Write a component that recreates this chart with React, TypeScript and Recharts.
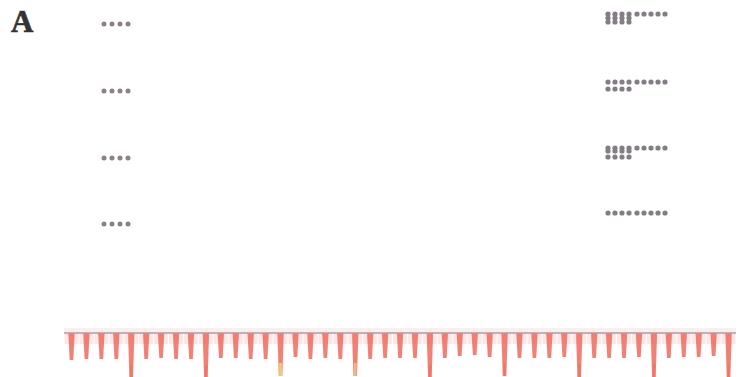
import { ScatterChart, Scatter, XAxis, YAxis, BarChart, Bar, ReferenceLine, ReferenceArea } from 'recharts';

// dot blots: left lane columns and row heights
const leftColsX = [104, 112, 120, 128];
const leftRowsY = [24, 91, 158, 224];

// right lane: each row of dots
const rightRowX = [608, 615, 622, 629, 637, 644, 651, 658, 665];
const rightPairX = [608, 615, 622, 629];
const rightTopY = [14, 82, 148, 213];
const rightMidY = [18, 151];
const rightLowY = [22, 89, 157];

// peak strip at bottom: depth of each spike below the baseline
const peakLanes = Array.from({ length: 45 }, (_, i) => `L${i + 1}`);
const peakDepth = [
  27, 26, 26, 26, 45, 26, 25, 26, 26, 45,
  25, 25, 26, 26, 43, 24, 26, 25, 26, 43,
  26, 25, 25, 25, 45, 25, 23, 22, 24, 43,
  25, 25, 25, 24, 44, 25, 25, 25, 24, 44,
  25, 24, 24, 23, 45,
];

const leftDots = leftRowsY.flatMap((y) => leftColsX.map((x) => ({ x, y })));
const rightDots = [
  ...rightTopY.flatMap((y) => rightRowX.map((x) => ({ x, y }))),
  ...rightMidY.flatMap((y) => rightPairX.map((x) => ({ x, y }))),
  ...rightLowY.flatMap((y) => rightPairX.map((x) => ({ x, y }))),
];
const peakData = peakLanes.map((lane, i) => ({ lane, depth: peakDepth[i] }));

const Spike = (props: any) => {
  const { x, y, width, height, index } = props;
  const cx = x + width / 2;
  const top = Math.min(y, y + height);
  const bottom = Math.max(y, y + height);
  const long = bottom - top > 35;
  const tail = index === 14 ? '#ecd47a' : index === 19 ? '#f3b884' : '#ef7466';
  return (
    <g>
      <rect x={cx - 7} y={top} width={14} height={11} fill="#f5b0b0" opacity={0.3} />
      <path
        d={`M${cx - 3.2},${top} L${cx + 3.2},${top} L${cx + 1.8},${bottom} L${cx - 1.8},${bottom} Z`}
        fill="#ef6f62"
        opacity={0.88}
      />
      {long && (
        <rect x={cx - 1.4} y={bottom - 13} width={2.8} height={13} fill={tail} opacity={0.9} />
      )}
    </g>
  );
};

export default function App() {
  return (
    <div style={{ position: 'absolute', left: 0, top: 0, width: 741, height: 377, background: '#fff', overflow: 'hidden' }}>
      <svg width={741} height={377} style={{ position: 'absolute', left: 0, top: 0 }}>
        <text x={11} y={32} fontFamily="Liberation Serif" fontWeight="bold" fontSize={31} fill="#333" stroke="#333" strokeWidth={0.6}>
          A
        </text>
      </svg>
      <div style={{ position: 'absolute', left: 0, top: 0 }}>
        <ScatterChart width={741} height={377} margin={{ top: 0, right: 0, bottom: 0, left: 0 }}>
          <XAxis type="number" dataKey="x" domain={[0, 741]} hide />
          <YAxis type="number" dataKey="y" domain={[0, 377]} reversed hide />
          <Scatter data={leftDots} fill="#8c8188" shape={(p: any) => <circle cx={p.cx} cy={p.cy} r={2.5} fill="#8c8188" />} isAnimationActive={false} />
          <Scatter data={rightDots} fill="#857d85" shape={(p: any) => <circle cx={p.cx} cy={p.cy} r={2.6} fill="#857d85" />} isAnimationActive={false} />
        </ScatterChart>
      </div>
      <div style={{ position: 'absolute', left: 0, top: 327 }}>
        <BarChart width={741} height={50} data={peakData} margin={{ top: 0, right: 5, bottom: 0, left: 64 }}>
          <XAxis dataKey="lane" hide />
          <YAxis type="number" domain={[-6, 44]} reversed hide allowDataOverflow />
          <ReferenceArea y1={-5} y2={0} fill="#f0cdd2" fillOpacity={0.35} stroke="none" ifOverflow="visible" />
          <Bar dataKey="depth" shape={Spike} isAnimationActive={false} />
          <ReferenceLine y={0} stroke="#b49aa2" strokeWidth={1.5} />
        </BarChart>
      </div>
    </div>
  );
}
